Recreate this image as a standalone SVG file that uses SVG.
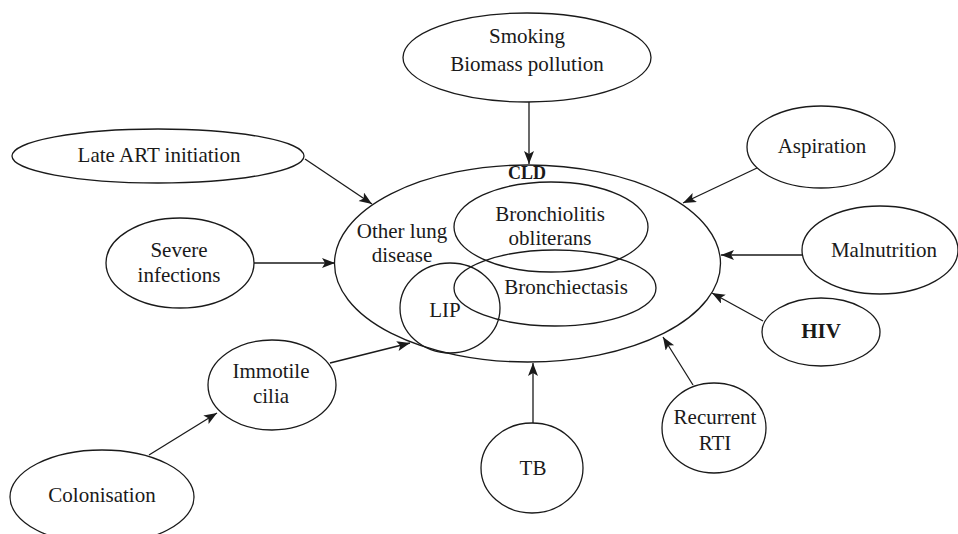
<svg xmlns="http://www.w3.org/2000/svg" width="958" height="534" viewBox="0 0 958 534">
<style>
.n{fill:#fff;stroke:#1a1a1a;stroke-width:1.3}
.o{fill:none;stroke:#1a1a1a;stroke-width:1.3}
text{font-family:"Liberation Serif","Times New Roman",serif;font-size:21px;fill:#1a1a1a;text-anchor:middle}
.b{font-weight:bold}
.c line{stroke:#1a1a1a;stroke-width:1.3;marker-end:url(#ah)}
</style>
<defs>
<marker id="ah" markerUnits="userSpaceOnUse" markerWidth="14" markerHeight="12" refX="13" refY="5" orient="auto">
<path d="M0,0 L13,5 L0,10 L3,5 z" fill="#1a1a1a"/>
</marker>
</defs>
<rect width="958" height="534" fill="#fff"/>
<g id="cld">
<ellipse class="n" cx="527.5" cy="263.5" rx="193" ry="98.5"/>
<ellipse class="o" cx="551" cy="227" rx="97" ry="45"/>
<ellipse class="o" cx="555" cy="288" rx="101" ry="38"/>
<ellipse class="o" cx="450" cy="308" rx="50" ry="45"/>
<text class="b" x="527" y="179" style="font-size:18px">CLD</text>
<text x="402" y="238">Other lung</text>
<text x="402" y="262">disease</text>
<text x="550" y="221">Bronchiolitis</text>
<text x="550" y="245">obliterans</text>
<text x="566" y="294">Bronchiectasis</text>
<text x="445" y="317">LIP</text>
</g>
<g id="smoking">
<ellipse class="n" cx="527" cy="57.5" rx="124" ry="44.5"/>
<text x="527" y="43">Smoking</text>
<text x="527" y="71">Biomass pollution</text>
</g>
<g id="lateart">
<ellipse class="n" cx="158" cy="156" rx="146" ry="27"/>
<text x="159" y="162">Late ART initiation</text>
</g>
<g id="aspiration">
<ellipse class="n" cx="821" cy="147" rx="74" ry="41"/>
<text x="822" y="153">Aspiration</text>
</g>
<g id="severe">
<ellipse class="n" cx="180" cy="263" rx="74" ry="45"/>
<text x="179" y="257">Severe</text>
<text x="179" y="282">infections</text>
</g>
<g id="malnutrition">
<ellipse class="n" cx="880" cy="250" rx="78" ry="44"/>
<text x="884" y="257">Malnutrition</text>
</g>
<g id="hiv">
<ellipse class="n" cx="821" cy="332" rx="59" ry="34"/>
<text class="b" x="821" y="338">HIV</text>
</g>
<g id="recurrent">
<ellipse class="n" cx="714" cy="428" rx="52" ry="45"/>
<text x="715" y="424">Recurrent</text>
<text x="715" y="450">RTI</text>
</g>
<g id="tb">
<ellipse class="n" cx="532" cy="468" rx="51" ry="45"/>
<text x="533" y="475">TB</text>
</g>
<g id="immotile">
<ellipse class="n" cx="272" cy="385" rx="64" ry="45"/>
<text x="271" y="378">Immotile</text>
<text x="271" y="403">cilia</text>
</g>
<g id="colonisation">
<ellipse class="n" cx="102" cy="497" rx="92" ry="47"/>
<text x="102" y="502">Colonisation</text>
</g>
<g id="connectors" class="c">
<line x1="529" y1="102" x2="529" y2="164"/>
<line x1="305" y1="159" x2="372" y2="204"/>
<line x1="757" y1="168" x2="683" y2="203"/>
<line x1="254" y1="263" x2="335" y2="263"/>
<line x1="802" y1="255" x2="721" y2="255"/>
<line x1="763" y1="321" x2="712" y2="293"/>
<line x1="693" y1="385" x2="663" y2="337"/>
<line x1="533" y1="423" x2="533" y2="363"/>
<line x1="330" y1="363" x2="410" y2="343"/>
<line x1="149" y1="455" x2="217" y2="413"/>
</g>
</svg>
